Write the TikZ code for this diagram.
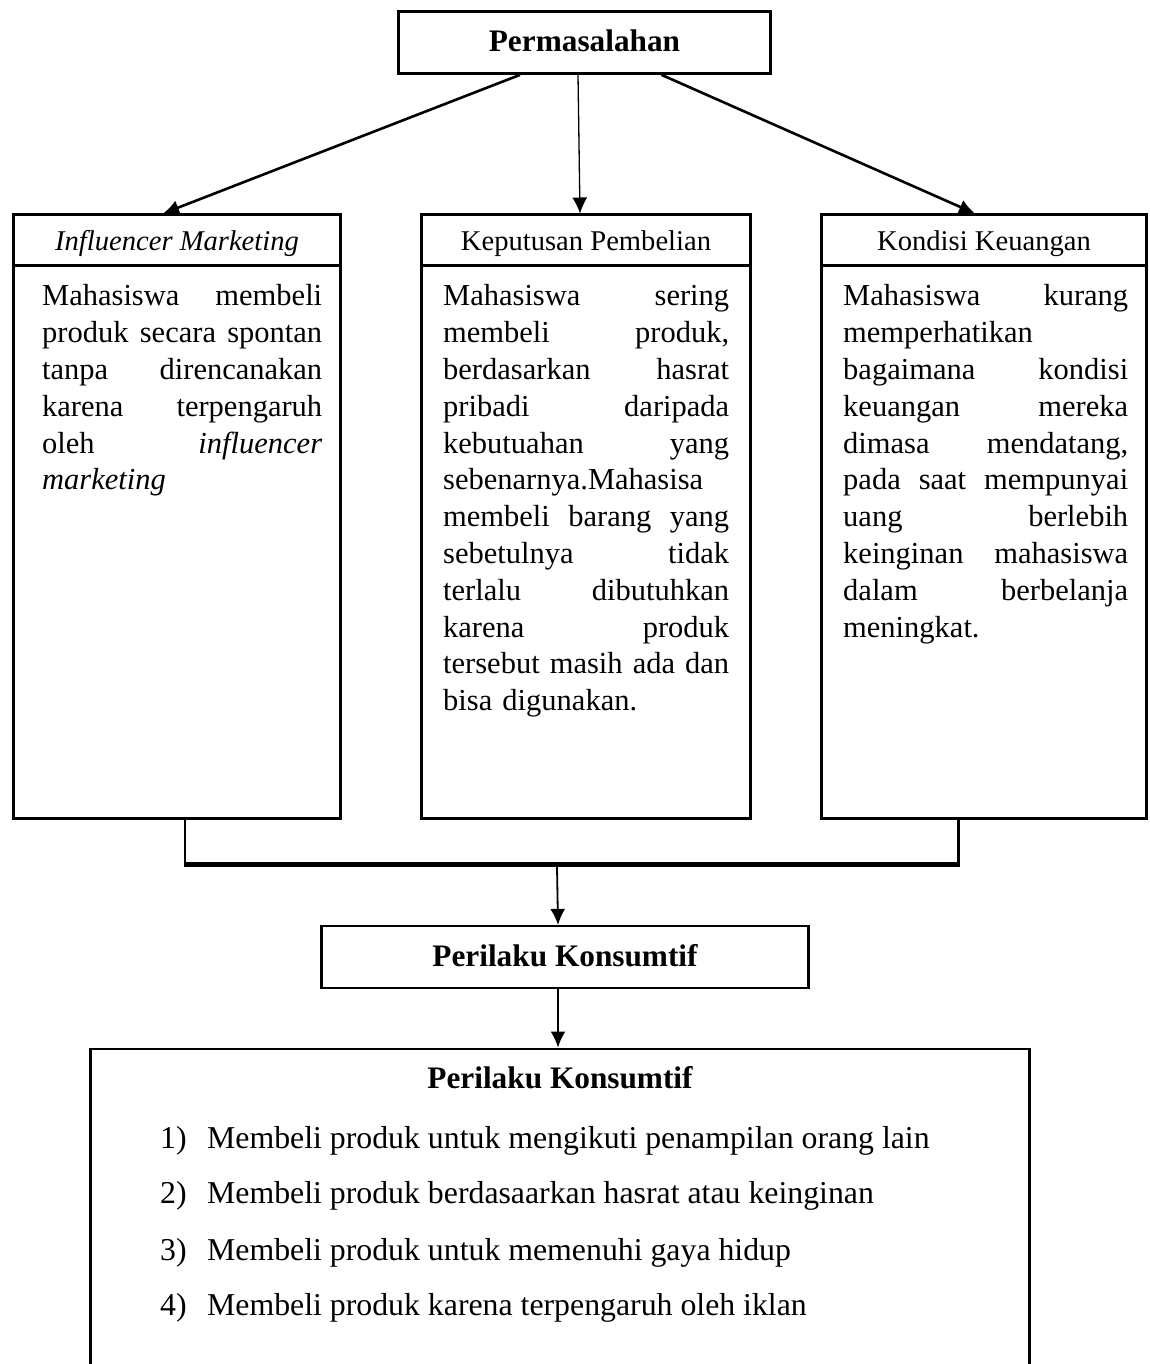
\documentclass[tikz,border=0pt]{standalone}
\usepackage{fontspec}
\setmainfont{Liberation Serif}
\usetikzlibrary{arrows.meta}
\newcommand\fBody{\fontsize{30.5}{36.8}\selectfont}
\newcommand\fTitle{\fontsize{31.3}{36.8}\selectfont}
\newcommand\fHead{\fontsize{28.6}{34}\selectfont}
\newcommand\fList{\fontsize{31.8}{38}\selectfont}
\newcommand\jl[1]{{\spaceskip=0pt\xspaceskip=0pt\makebox[\hsize][s]{#1}}}
\hbadness=10000
\hfuzz=20pt
\tikzset{
  tbox/.style={draw, line width=2.7pt, inner sep=0pt},
  cbox/.style={draw, line width=3pt, inner sep=0pt, anchor=north},
  headtxt/.style={font=\fHead, text height=20.5pt, text depth=0pt},
  bodytxt/.style={anchor=north west, inner sep=0pt, align=left, font=\fBody},
  listtxt/.style={anchor=base west, inner sep=0pt, font=\fList},
  arr/.style={-{Latex[length=16pt,width=15pt]}},
}
\begin{document}
\begin{tikzpicture}[x=1pt,y=-1pt]
\useasboundingbox (0,0) rectangle (1150,1364);
\clip (0,0) rectangle (1150,1364);

% top box
\node[tbox, minimum width=372pt, minimum height=62pt, font=\fTitle\bfseries,
      text height=19pt, text depth=0pt] (top) at (584.5,42.5) {Permasalahan};

% column headers
\node[cbox, headtxt, minimum width=327pt, minimum height=50.5pt] (Lh) at (177,213.5) {\itshape Influencer Marketing};
\node[cbox, headtxt, minimum width=329pt, minimum height=50.5pt] (Mh) at (586,213.5) {Keputusan Pembelian};
\node[cbox, headtxt, minimum width=325pt, minimum height=50.5pt] (Rh) at (984,213.5) {Kondisi Keuangan};

% column bodies
\node[cbox, minimum width=327pt, minimum height=552.5pt] (Lb) at (177,264) {};
\node[cbox, minimum width=329pt, minimum height=552.5pt] (Mb) at (586,264) {};
\node[cbox, minimum width=325pt, minimum height=552.5pt] (Rb) at (984,264) {};

% column texts
\node[bodytxt, text width=280pt] (Lt) at (42,284.6) {%
\jl{Mahasiswa membeli}\\
\jl{produk secara spontan}\\
\jl{tanpa direncanakan}\\
\jl{karena terpengaruh}\\
\jl{oleh \textit{influencer}}\\
\textit{marketing}};

\node[bodytxt, text width=286pt] (Mt) at (443,284.6) {%
\jl{Mahasiswa sering}\\
\jl{membeli produk,}\\
\jl{berdasarkan hasrat}\\
\jl{pribadi daripada}\\
\jl{kebutuahan yang}\\
sebenarnya.Mahasisa\\
\jl{membeli barang yang}\\
\jl{sebetulnya tidak}\\
\jl{terlalu dibutuhkan}\\
\jl{karena produk}\\
\jl{tersebut masih ada dan}\\
bisa digunakan.};

\node[bodytxt, text width=285pt] (Rt) at (843,284.6) {%
\jl{Mahasiswa kurang}\\
memperhatikan\\
\jl{bagaimana kondisi}\\
\jl{keuangan mereka}\\
\jl{dimasa mendatang,}\\
\jl{pada saat mempunyai}\\
\jl{uang berlebih}\\
\jl{keinginan mahasiswa}\\
\jl{dalam berbelanja}\\
meningkat.};

% arrows from top
\draw[arr, line width=2.6pt] ([xshift=-64.5pt]top.south) -- ([xshift=-14pt]Lh.north);
\draw[arr, line width=1.3pt] ([xshift=-6.5pt]top.south) -- ([xshift=-6pt]Mh.north);
\draw[arr, line width=2.6pt] ([xshift=77pt]top.south) -- ([xshift=-9pt]Rh.north);

% joining bar
\coordinate (jl) at (185,864.5);
\coordinate (jr) at (958.5,864.5);
\coordinate (jm) at (557,867);
\draw[line width=2.5pt] ([xshift=8pt]Lb.south) -- (jl);
\draw[line width=2.5pt] ([xshift=-25.5pt]Rb.south) -- (jr);
\draw[line width=5.5pt] ([xshift=-1.5pt]jl) -- ([xshift=1.5pt]jr);

% perilaku box
\node[tbox, line width=2.2pt, minimum width=487pt, minimum height=62pt, font=\fTitle\bfseries,
      text height=19.4pt, text depth=0pt] (p1) at (565,957) {Perilaku Konsumtif};
\draw[arr, line width=1.8pt] (jm) -- ([xshift=-7pt]p1.north);

% bottom box
\node[tbox, line width=2.4pt, anchor=north, minimum width=939pt, minimum height=400pt] (bb) at (560,1047.5) {};
\draw[arr, line width=1.8pt] ([xshift=-7pt]p1.south) -- ([xshift=-2pt]bb.north);

\node[anchor=base, inner sep=0pt, font=\fTitle\bfseries] (bt) at (560,1088) {Perilaku Konsumtif};
\node[listtxt] (i1) at (160,1148) {\makebox[47pt][l]{1)}Membeli produk untuk mengikuti penampilan orang lain};
\node[listtxt] (i2) at (160,1203) {\makebox[47pt][l]{2)}Membeli produk berdasaarkan hasrat atau keinginan};
\node[listtxt] (i3) at (160,1260) {\makebox[47pt][l]{3)}Membeli produk untuk memenuhi gaya hidup};
\node[listtxt] (i4) at (160,1315) {\makebox[47pt][l]{4)}Membeli produk karena terpengaruh oleh iklan};
\end{tikzpicture}
\end{document}
